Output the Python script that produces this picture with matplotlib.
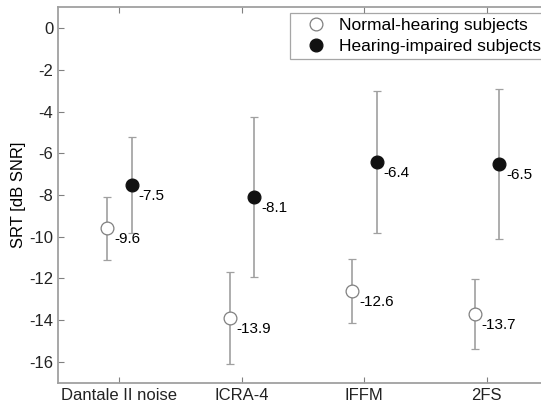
import matplotlib
matplotlib.use("Agg")
import matplotlib.pyplot as plt
from matplotlib.lines import Line2D
import numpy as np

plt.rcParams['font.family'] = ['Liberation Sans', 'DejaVu Sans']

categories = ["Dantale II noise", "ICRA-4", "IFFM", "2FS"]
nh_mean = [-9.6, -13.9, -12.6, -13.7]
nh_sd = [1.5, 2.2, 1.55, 1.68]
hi_mean = [-7.5, -8.1, -6.4, -6.5]
hi_sd = [2.3, 3.85, 3.4, 3.6]
yticks = [0, -2, -4, -6, -8, -10, -12, -14, -16]

fig = plt.figure(figsize=(5.41, 4.05), dpi=100)
ax = fig.add_axes([58/541, 1-382.7/405, (548-58)/541, (382.7-7.3)/405])

x = np.arange(1, len(categories)+1)
off = 0.1
ecol = '#a0a0a0'
nh_style = dict(marker='o', mfc='white', mec='#808080', mew=0.9, ms=9.2)
hi_style = dict(marker='o', mfc='#111111', mec='#111111', mew=0.9, ms=9.2)
ax.errorbar(x-off, nh_mean, yerr=nh_sd, ls='none', ecolor=ecol, elinewidth=1.2,
            capsize=3, capthick=1.2, zorder=3, **nh_style)
ax.errorbar(x+off, hi_mean, yerr=hi_sd, ls='none', ecolor=ecol, elinewidth=1.2,
            capsize=3, capthick=1.2, zorder=3, **hi_style)

for xi, v in zip(x-off, nh_mean):
    ax.annotate(f"{v:.1f}", (xi, v), xytext=(5, -8), textcoords='offset points',
                ha='left', va='center', fontsize=11)
for xi, v in zip(x+off, hi_mean):
    ax.annotate(f"{v:.1f}", (xi, v), xytext=(5, -8), textcoords='offset points',
                ha='left', va='center', fontsize=11)

ax.set_xlim(0.5, 4.5)
ax.set_ylim(-17, 1)
ax.set_xticks(x)
ax.set_xticklabels(categories, fontsize=12)
ax.set_yticks(yticks)
ax.set_yticklabels([str(t) for t in yticks], fontsize=12)
ax.set_ylabel("SRT [dB SNR]", fontsize=12, labelpad=2)
ax.tick_params(direction='in', top=True, right=True, length=4, color='#808080',
               labelcolor='#222222')
for s in ax.spines.values():
    s.set_color('#a0a0a0')
    s.set_linewidth(1.3)

handles = [Line2D([], [], ls='none', **nh_style), Line2D([], [], ls='none', **hi_style)]
labels = ['Normal-hearing subjects', 'Hearing-impaired subjects']
leg = ax.legend(handles, labels, loc='upper left',
                bbox_to_anchor=((290-58)/490, 1-(13-7.3)/375.4),
                fontsize=12.5, frameon=True, fancybox=False, edgecolor='#909090',
                handletextpad=0.15, borderpad=0.3, labelspacing=0.3, handlelength=2.4,
                borderaxespad=0)
leg.get_frame().set_linewidth(0.9)

fig.savefig("out.png", dpi=100)
